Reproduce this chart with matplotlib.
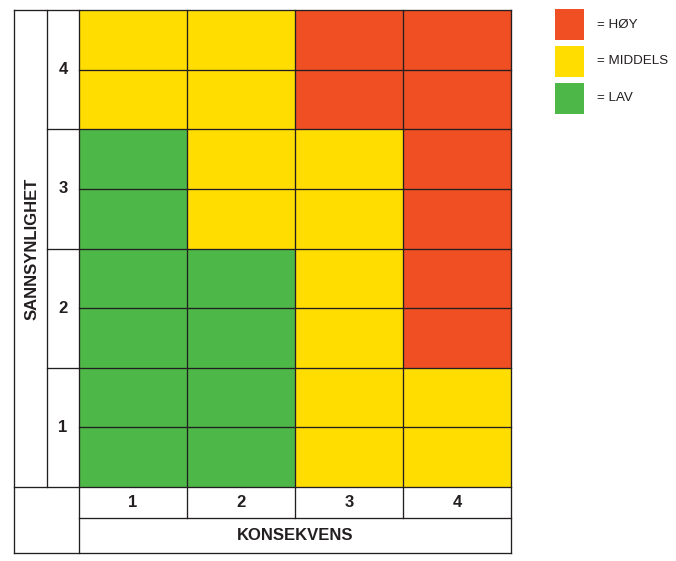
import matplotlib.pyplot as plt
from matplotlib.colors import ListedColormap
from matplotlib.patches import Rectangle
import numpy as np

# risk level per cell: 0 = LAV, 1 = MIDDELS, 2 = HØY
# rows = sannsynlighet 1..4 (bottom to top), cols = konsekvens 1..4
risk = [
    [0, 0, 1, 1],
    [0, 0, 1, 2],
    [0, 1, 1, 2],
    [1, 1, 2, 2],
]
konsekvens = ['1', '2', '3', '4']
sannsynlighet = ['1', '2', '3', '4']
level_names = ['= HØY', '= MIDDELS', '= LAV']
level_colors = ['#4DB848', '#FFDD00', '#F04E23']  # LAV, MIDDELS, HØY

line_c = '#231F20'
lw = 0.95
plt.rcParams['font.family'] = ['Liberation Sans', 'DejaVu Sans']

W, H = 676, 561
fig = plt.figure(figsize=(W / 100, H / 100), dpi=100)

# grid area in pixels
gx0, gx1, gy0, gy1 = 79, 511, 10, 487
ax = fig.add_axes([gx0 / W, (H - gy1) / H, (gx1 - gx0) / W, (gy1 - gy0) / H])
ncol, nrow = len(konsekvens), len(sannsynlighet)
ax.set_xlim(0, ncol)
ax.set_ylim(0, nrow)
ax.axis('off')

cw = (gx1 - gx0) / ncol
rh = (gy1 - gy0) / nrow
# side / bottom label bands, in data units
xl0 = -(gx0 - 14) / cw
xl1 = -(gx0 - 47) / cw
yb1 = -31 / rh
yb2 = -66 / rh

ax.pcolormesh(np.arange(ncol + 1), np.arange(nrow + 1), np.array(risk),
              cmap=ListedColormap(level_colors), vmin=-0.5, vmax=2.5)

kw = dict(color=line_c, lw=lw, clip_on=False, solid_capstyle='projecting')
# horizontal lines
for k in range(nrow):
    ax.plot([0, ncol], [k + 0.5, k + 0.5], **kw)
for k in range(1, nrow):
    ax.plot([xl1, ncol], [k, k], **kw)
ax.plot([xl0, ncol], [nrow, nrow], **kw)
ax.plot([xl0, ncol], [0, 0], **kw)
ax.plot([0, ncol], [yb1, yb1], **kw)
ax.plot([xl0, ncol], [yb2, yb2], **kw)
# vertical lines
for k in range(1, ncol):
    ax.plot([k, k], [yb1, nrow], **kw)
ax.plot([0, 0], [yb2, nrow], **kw)
ax.plot([ncol, ncol], [yb2, nrow], **kw)
ax.plot([xl0, xl0], [yb2, nrow], **kw)
ax.plot([xl1, xl1], [0, nrow], **kw)

tkw = dict(fontsize=12, fontweight='bold', color=line_c, ha='center', va='center')
for i, lab in enumerate(konsekvens):
    ax.text(i + 0.5, yb1 / 2, lab, **tkw)
for i, lab in enumerate(sannsynlighet):
    ax.text(xl1 / 2, i + 0.5, lab, **tkw)
ax.text(ncol / 2, (yb1 + yb2) / 2, 'KONSEKVENS', **tkw)
ax.text((xl0 + xl1) / 2 + 0.01, nrow / 2, 'SANNSYNLIGHET', rotation=90, **tkw)

# legend
lax = fig.add_axes([0, 0, 1, 1])
lax.set_xlim(0, W)
lax.set_ylim(H, 0)
lax.axis('off')
for i, name in enumerate(level_names):
    y = 9 + i * 36.8
    lax.add_patch(Rectangle((555, y), 29, 31, color=level_colors[::-1][i], lw=0))
    lax.text(597, y + 15.5, name, fontsize=9.6, color=line_c, va='center', ha='left')

fig.savefig('out.png', dpi=100)
